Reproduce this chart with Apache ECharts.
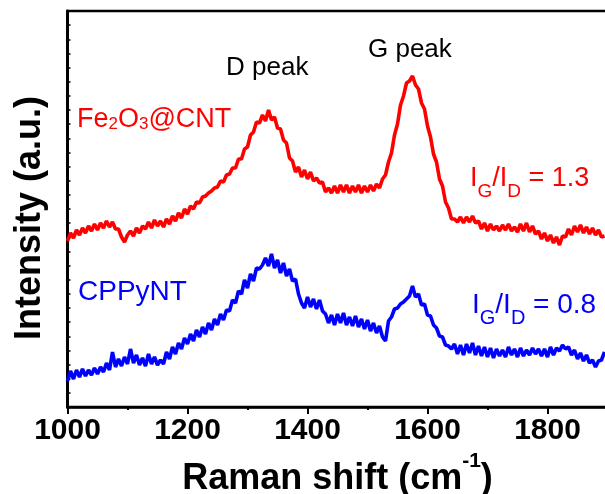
<!DOCTYPE html>
<html><head><meta charset="utf-8">
<script src="https://cdn.jsdelivr.net/npm/echarts@6/dist/echarts.min.js"></script>
<style>html,body{margin:0;padding:0;background:#fff}#c{width:605px;height:494px}</style>
</head><body><div id="c"></div>
<script>
// Raman shift (cm^-1), sampled every 5 cm^-1
const shift = [1000,1005,1010,1015,1020,1025,1030,1035,1040,1045,1050,1055,1060,1065,1070,1075,1080,1085,1090,1095,
1100,1105,1110,1115,1120,1125,1130,1135,1140,1145,1150,1155,1160,1165,1170,1175,1180,1185,1190,1195,
1200,1205,1210,1215,1220,1225,1230,1235,1240,1245,1250,1255,1260,1265,1270,1275,1280,1285,1290,1295,
1300,1305,1310,1315,1320,1325,1330,1335,1340,1345,1350,1355,1360,1365,1370,1375,1380,1385,1390,1395,
1400,1405,1410,1415,1420,1425,1430,1435,1440,1445,1450,1455,1460,1465,1470,1475,1480,1485,1490,1495,
1500,1505,1510,1515,1520,1525,1530,1535,1540,1545,1550,1555,1560,1565,1570,1575,1580,1585,1590,1595,
1600,1605,1610,1615,1620,1625,1630,1635,1640,1645,1650,1655,1660,1665,1670,1675,1680,1685,1690,1695,
1700,1705,1710,1715,1720,1725,1730,1735,1740,1745,1750,1755,1760,1765,1770,1775,1780,1785,1790,1795,
1800,1805,1810,1815,1820,1825,1830,1835,1840,1845,1850,1855,1860,1865,1870,1875,1880,1885,1890,1895];

// Fe2O3@CNT intensity (a.u., offset)
const fe2o3CNT = [166,174,169,177,172,179,174,181,176,183,177,184,179,186,180,185,178,178,170,165,
172,176,171,179,174,181,178,185,179,187,181,186,180,188,183,191,186,194,189,198,
193,201,198,205,204,210,211,214,216,219,220,226,225,232,233,239,239,248,248,258,
260,272,275,285,284,292,286,297,287,290,279,278,267,264,249,246,235,240,230,237,
228,235,226,229,224,225,215,219,214,221,214,222,215,222,214,221,215,222,214,221,
215,222,216,223,219,228,232,245,254,272,283,302,311,324,326,331,322,318,304,298,
281,270,253,245,228,221,205,199,188,188,185,190,184,190,185,191,184,186,178,184,
176,183,177,181,176,182,177,183,176,180,175,183,176,184,175,181,173,176,168,174,
166,172,164,170,162,171,170,178,172,181,175,182,174,180,173,179,172,177,170,171];

// CPPyNT intensity (a.u., offset)
const cppyNT = [26,36,28,37,30,38,31,37,32,39,33,40,35,44,37,55,40,48,41,50,
43,58,44,52,42,49,41,53,43,50,42,47,43,55,48,60,53,64,58,69,
63,73,66,77,70,80,73,84,77,88,82,93,87,97,96,107,104,116,113,127,
119,133,126,139,138,142,149,141,153,139,147,134,144,131,138,126,128,113,104,99,
110,100,108,98,107,96,93,84,92,82,93,84,94,82,90,81,91,80,88,78,
87,76,84,74,81,70,66,86,90,98,99,103,105,108,111,121,110,113,102,103,
92,91,82,79,71,70,62,61,58,63,53,62,52,63,54,64,52,61,51,60,
50,59,49,58,51,57,50,60,52,58,50,59,51,57,52,59,53,58,51,58,
50,60,52,59,56,62,58,60,52,57,48,54,46,52,44,47,40,46,47,55];

const xTickLabels = ['1000','1200','1400','1600','1800'];
const seriesNames = ['Fe2O3@CNT','CPPyNT'];

const FONT = 'Liberation Sans, Arial, sans-serif';
const chart = echarts.init(document.getElementById('c'), null, {renderer:'canvas'});
const toPairs = (xs, ys) => xs.map((x,i)=>[x, ys[i]]);

chart.setOption({
  animation:false,
  backgroundColor:'#fff',
  grid:{left:67.5, top:11, width:540, height:396, show:true, borderColor:'#000', borderWidth:2.5,
        containLabel:false, outerBoundsMode:'none'},
  xAxis:[{
    type:'value', min:1000, max:1900, interval:100,
    axisLine:{show:true, lineStyle:{color:'#000', width:2.5}},
    axisTick:{show:true, inside:false, length:3, lineStyle:{color:'#000', width:2}},
    splitLine:{show:false},
    axisLabel:{
      color:'#000', fontSize:30, fontWeight:'bold', fontFamily:FONT, margin:9,
      showMaxLabel:false,
      formatter:v => xTickLabels.indexOf(String(v))>=0 ? String(v) : ''
    },
    name:'{a|Raman shift (cm}{s|-1}{a|)}',
    nameLocation:'middle', nameGap:30,
    nameTextStyle:{
      rich:{
        a:{fontSize:36, fontWeight:'bold', fontFamily:FONT, color:'#000', lineHeight:46, verticalAlign:'bottom'},
        s:{fontSize:21, fontWeight:'bold', fontFamily:FONT, color:'#000', lineHeight:20, verticalAlign:'top'}
      }
    }
  },{
    type:'value', min:1000, max:1900, interval:200, position:'bottom',
    axisLine:{show:false}, splitLine:{show:false},
    axisTick:{show:true, inside:false, length:7, lineStyle:{color:'#000', width:2}},
    axisLabel:{show:false}
  }],
  yAxis:{
    type:'value', min:0, max:396, interval:396/28,
    axisLine:{show:true, lineStyle:{color:'#000', width:3}},
    axisTick:{show:true, inside:true, length:3, lineStyle:{color:'#000', width:1.5}},
    axisLabel:{show:false}, splitLine:{show:false}
  },
  series:[
    {name:seriesNames[1], type:'line', xAxisIndex:0, showSymbol:false, data:toPairs(shift, cppyNT),
     lineStyle:{color:'#0000ff', width:3.6}, itemStyle:{color:'#0000ff'}},
    {name:seriesNames[0], type:'line', xAxisIndex:0, showSymbol:false, data:toPairs(shift, fe2o3CNT),
     lineStyle:{color:'#ff0000', width:3.6}, itemStyle:{color:'#ff0000'}}
  ],
  graphic:[
    {type:'text', x:30.5, y:218, rotation:Math.PI/2, style:{text:'Intensity (a.u.)', fontSize:36, fontWeight:'bold',
      fontFamily:FONT, fill:'#000', align:'center', verticalAlign:'middle'}},
    {type:'text', left:226, top:68-13, style:{text:'D peak', fontSize:26, fontFamily:FONT, fill:'#000', verticalAlign:'top'}},
    {type:'text', left:368, top:50-13, style:{text:'G peak', fontSize:26, fontFamily:FONT, fill:'#000', verticalAlign:'top'}},
    {type:'text', left:77, top:105.6, style:{
      text:'{m|Fe}{s|2}{m|O}{s|3}{m|@CNT}', fill:'#ff0000', fontFamily:FONT,
      rich:{
        m:{fontSize:27, lineHeight:30, verticalAlign:'bottom', fontFamily:FONT, fill:'#ff0000'},
        s:{fontSize:17, lineHeight:23, verticalAlign:'bottom', fontFamily:FONT, fill:'#ff0000'}
      }}},
    {type:'text', left:78, top:292-14, style:{text:'CPPyNT', fontSize:28, fontFamily:FONT, fill:'#0000ff', verticalAlign:'top'}},
    {type:'text', left:470, top:165, style:{
      text:'{m|I}{s|G}{m|/I}{s|D}{m| = 1.3}', fill:'#ff0000', fontFamily:FONT,
      rich:{
        m:{fontSize:27, lineHeight:30, verticalAlign:'top', fontFamily:FONT, fill:'#ff0000'},
        s:{fontSize:19, lineHeight:36, verticalAlign:'bottom', fontFamily:FONT, fill:'#ff0000'}
      }}},
    {type:'text', left:472, top:291, style:{
      text:'{m|I}{s|G}{m|/I}{s|D}{m| = 0.8}', fill:'#0000ff', fontFamily:FONT,
      rich:{
        m:{fontSize:28, lineHeight:30, verticalAlign:'top', fontFamily:FONT, fill:'#0000ff'},
        s:{fontSize:20, lineHeight:37, verticalAlign:'bottom', fontFamily:FONT, fill:'#0000ff'}
      }}}
  ]
});
</script></body></html>
